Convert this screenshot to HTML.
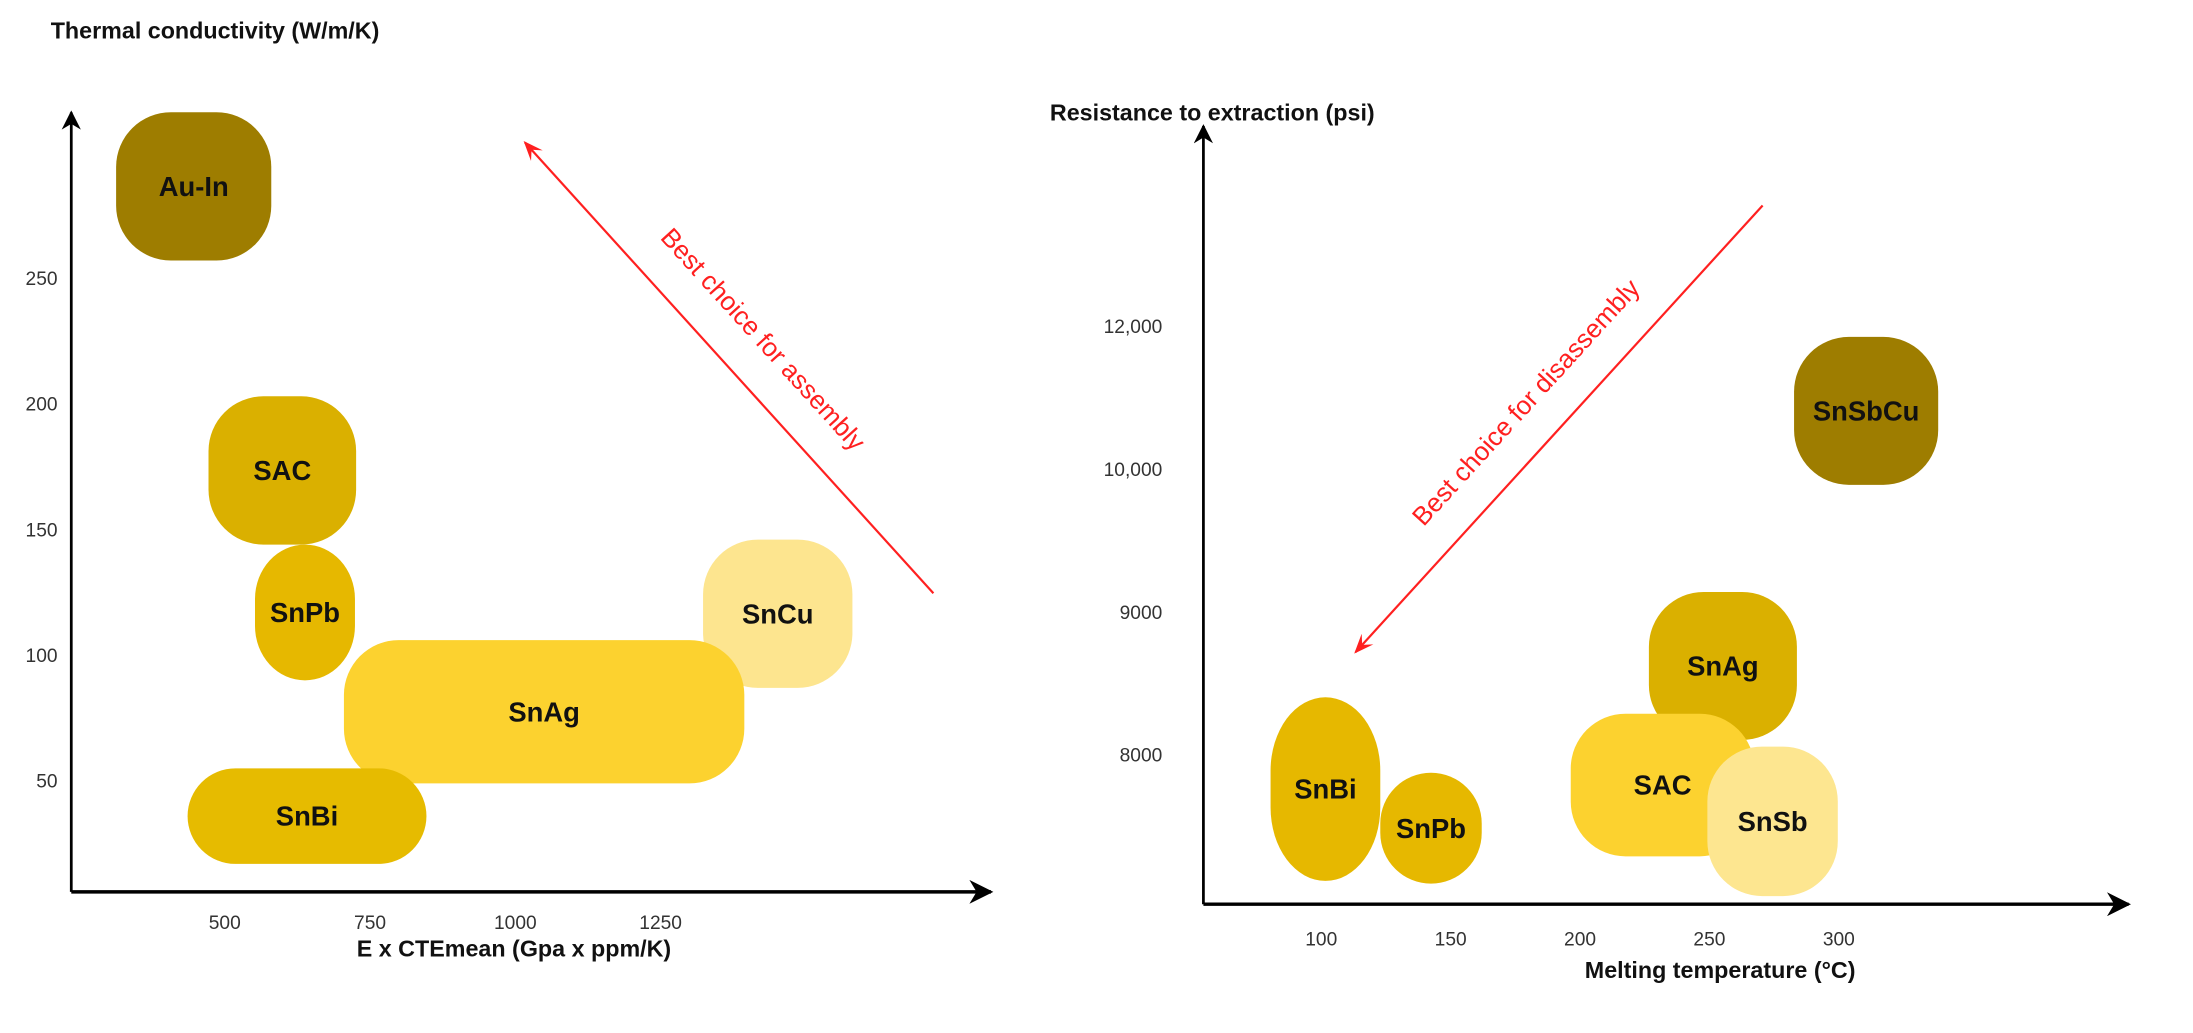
<!DOCTYPE html>
<html><head><meta charset="utf-8"><style>
html,body{margin:0;padding:0;background:#fff;}
svg{display:block;}
text{font-family:"Liberation Sans",sans-serif;}
</style></head><body>
<svg id="chart" width="2193" height="1033" viewBox="0 0 1600 754" preserveAspectRatio="none" xmlns="http://www.w3.org/2000/svg">
<defs>
<marker id="ah" viewBox="0 0 10 10" refX="9" refY="5" markerWidth="7" markerHeight="7" orient="auto-start-reverse"><path d="M0,0 L10,5 L0,10 L3,5 z" fill="#000"/></marker>
<marker id="rh" viewBox="0 0 10 10" refX="9" refY="5" markerWidth="9" markerHeight="9" orient="auto-start-reverse"><path d="M0,1 L10,5 L0,9 L4,5 z" fill="#ff2020"/></marker>
</defs>
<g id="left"></g>
<g id="right"></g>
</svg>
<script>
// ---- Left chart data ----
const leftXTicks = [500, 750, 1000, 1250];
const leftYTicks = [50, 100, 150, 200, 250];
const leftNames = ["Au-In", "SAC", "SnPb", "SnCu", "SnAg", "SnBi"];
const leftX0 = [313, 472, 552, 1323, 705, 436];
const leftX1 = [580, 726, 724, 1580, 1394, 847];
const leftY0 = [257, 144, 90, 87, 49, 17];
const leftY1 = [316, 203, 144, 146, 106, 55];
const leftColors = ["#9e7d00", "#dab000", "#e6b800", "#fde58f", "#fcd22f", "#e6bb00"];
// ---- Right chart data ----
const rightXTicks = [100, 150, 200, 250, 300];
const rightYTicks = [8000, 9000, 10000, 12000];
const rightYTickLabels = ["8000", "9000", "10,000", "12,000"];
const rightNames = ["SnSbCu", "SnAg", "SAC", "SnSb", "SnBi", "SnPb"];
const rightX0 = [282.7, 226.6, 196.4, 249.2, 80.4, 122.8];
const rightX1 = [338.4, 283.8, 267.4, 299.6, 122.8, 162];
const rightY0 = [9890, 8105, 7290, 7012, 7118, 7099];
const rightY1 = [11850, 9140, 8288, 8058, 8403, 7875];
const rightColors = ["#9e7d00", "#dab000", "#fcd22f", "#fde690", "#e6b800", "#e6b800"];

const NS = "http://www.w3.org/2000/svg";
function mk(parent, tag, attrs, txt){
  const e = document.createElementNS(NS, tag);
  for (const k in attrs) e.setAttribute(k, attrs[k]);
  if (txt !== undefined) e.textContent = txt;
  parent.appendChild(e); return e;
}
// axis functions
const lx = v => 164 + (v - 500) * 0.424;
const ly = v => 203 + (250 - v) * 1.835;
const rx = v => 1152.8 + (v - 200) * 1.888;
function ry(v){
  let idx;
  if (v <= 8000) idx = (v - 8000) / 1000;
  else if (v <= 9000) idx = (v - 8000) / 1000;
  else if (v <= 10000) idx = 1 + (v - 9000) / 1000;
  else idx = 2 + (v - 10000) / 2000;
  return 551 - idx * 104.3;
}

const L = document.getElementById('left');
const R = document.getElementById('right');

// Left axes
let t = mk(L,'text',{x:37,y:28,'font-size':17,'font-weight':'bold',fill:'#111'},'Thermal conductivity (W/m/K)');
 
let a = mk(L,'line',{x1:52,y1:651,x2:52,y2:82,stroke:'#000','stroke-width':2,'marker-end':'url(#ah)'});
 
a = mk(L,'line',{x1:52,y1:651,x2:723,y2:651,stroke:'#000','stroke-width':2.5,'marker-end':'url(#ah)'});
 
leftYTicks.forEach(v=>{
  const e = mk(L,'text',{x:42,y:ly(v)+5,'font-size':14,fill:'#333','text-anchor':'end'},String(v));
   
});
leftXTicks.forEach(v=>{
  const e = mk(L,'text',{x:lx(v),y:678,'font-size':14,fill:'#333','text-anchor':'middle'},String(v));
   
});
t = mk(L,'text',{x:375,y:698,'font-size':17,'font-weight':'bold',fill:'#111','text-anchor':'middle'},'E x CTEmean (Gpa x ppm/K)');
 

function drawBlobs(G, names, x0s, x1s, y0s, y1s, cols, fx, fy, prefix){
  names.forEach((n,i)=>{
    const xa = fx(x0s[i]), xb = fx(x1s[i]);
    const ya = fy(y1s[i]), yb = fy(y0s[i]);
    const w = xb-xa, h = yb-ya;
    const r = Math.min(40, w/2, h/2);
    const ryy = Math.min(h/2, Math.max(r, w < 90 ? h*0.4 : r));
    const g = mk(G,'g',{});
    
    
    mk(g,'rect',{x:xa,y:ya,width:w,height:h,rx:r,ry:ryy,fill:cols[i]});
    mk(g,'text',{x:xa+w/2,y:ya+h/2+7,'font-size':20,'font-weight':'bold',fill:'#111','text-anchor':'middle'},n);
  });
}
drawBlobs(L,leftNames,leftX0,leftX1,leftY0,leftY1,leftColors,lx,ly,'left-region');

// Left red arrow
a = mk(L,'line',{x1:681,y1:433,x2:383,y2:104,stroke:'#ff2020','stroke-width':1.6,'marker-end':'url(#rh)'});
 
t = mk(L,'text',{x:0,y:0,'font-size':19,fill:'#ff2020','text-anchor':'middle',transform:'translate(552,252) rotate(47.8)'},'Best choice for assembly');
 

// Right axes
t = mk(R,'text',{x:766,y:88,'font-size':17,'font-weight':'bold',fill:'#111'},'Resistance to extraction (psi)');
 
a = mk(R,'line',{x1:878,y1:660,x2:878,y2:92,stroke:'#000','stroke-width':2,'marker-end':'url(#ah)'});
 
a = mk(R,'line',{x1:878,y1:660,x2:1553,y2:660,stroke:'#000','stroke-width':2.5,'marker-end':'url(#ah)'});
 
rightYTicks.forEach((v,i)=>{
  const e = mk(R,'text',{x:848,y:ry(v)+5,'font-size':14,fill:'#333','text-anchor':'end'},rightYTickLabels[i]);
   
});
rightXTicks.forEach(v=>{
  const e = mk(R,'text',{x:rx(v),y:690,'font-size':14,fill:'#333','text-anchor':'middle'},String(v));
   
});
t = mk(R,'text',{x:1255,y:714,'font-size':17,'font-weight':'bold',fill:'#111','text-anchor':'middle'},'Melting temperature (°C)');
 

drawBlobs(R,rightNames,rightX0,rightX1,rightY0,rightY1,rightColors,rx,ry,'right-region');

a = mk(R,'line',{x1:1286,y1:150,x2:989,y2:476,stroke:'#ff2020','stroke-width':1.6,'marker-end':'url(#rh)'});
 
t = mk(R,'text',{x:0,y:0,'font-size':19,fill:'#ff2020','text-anchor':'middle',transform:'translate(1118,298) rotate(-47.6)'},'Best choice for disassembly');
 
</script>
</body></html>
